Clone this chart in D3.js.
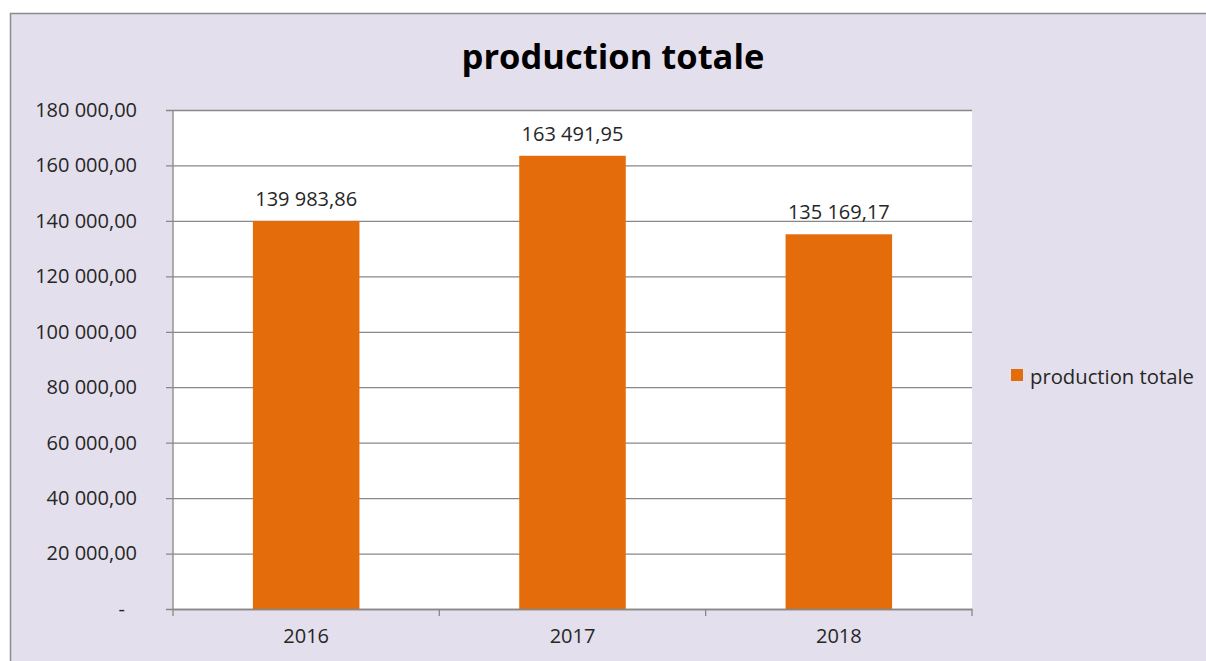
<!DOCTYPE html>
<html><head><meta charset="utf-8">
<script src="https://cdn.jsdelivr.net/npm/d3@7"></script>
<style>html,body{margin:0;padding:0;background:#fff;} svg{display:block;} text{font-family:"Open Sans",sans-serif;fill:#262626;}</style>
</head><body>
<svg id="c" width="1206" height="661"></svg>
<script>
const title = "production totale";
const seriesName = "production totale";
const categories = ["2016", "2017", "2018"];
const values = [139983.86, 163491.95, 135169.17];
const yTicks = [0, 20000, 40000, 60000, 80000, 100000, 120000, 140000, 160000, 180000];

const svg = d3.select("#c");
const W = 1206, H = 661;
const m = {left: 173, right: 972, top: 110, bottom: 609};
const orange = "#E46C0A", grid = "#888888", bg = "#E4DFEC";

svg.append("rect").attr("x", 10.5).attr("y", 13.5).attr("width", W).attr("height", H)
  .attr("fill", bg).attr("stroke", "#8c8c8c").attr("stroke-width", 1.5);

svg.append("rect").attr("x", m.left).attr("y", m.top).attr("width", m.right - m.left).attr("height", m.bottom - m.top).attr("fill", "#fff");

const loc = d3.formatLocale({decimal: ",", thousands: "\u00a0", grouping: [3], currency: ["", ""]});
const fmt = loc.format(",.2f");

const x = d3.scaleBand().domain(categories).range([m.left, m.right]).paddingInner(0.6).paddingOuter(0.3);
const xb = d3.scaleBand().domain(categories).range([m.left, m.right]);
const y = d3.scaleLinear().domain([0, 180000]).range([m.bottom, m.top]);

function fit(sel, w) {
  const node = sel.node();
  const cur = parseFloat(sel.attr("font-size"));
  const len = node.getComputedTextLength();
  sel.attr("font-size", cur * w / len);
}

// gridlines + y ticks
const ya = d3.axisLeft(y).tickValues(yTicks).tickSize(m.right - m.left + 7).tickFormat(d => d === 0 ? "-" : fmt(d)).tickPadding(29);
const yg = svg.append("g").attr("transform", `translate(${m.right},0)`).call(ya);
yg.select(".domain").remove();
yg.selectAll(".tick line").attr("stroke", grid).attr("stroke-width", 1.3);
yg.selectAll(".tick text").attr("font-size", 20).attr("font-family", "Open Sans").attr("fill", "#262626")
  .attr("dx", d => d === 0 ? -12 : 0);

// bars
svg.selectAll("rect.bar").data(values).join("rect").attr("class", "bar")
  .attr("x", (d, i) => x(categories[i])).attr("width", x.bandwidth())
  .attr("y", d => y(d)).attr("height", d => y(0) - y(d)).attr("fill", orange);

// y axis line
svg.append("line").attr("x1", m.left).attr("x2", m.left).attr("y1", m.top).attr("y2", m.bottom).attr("stroke", grid).attr("stroke-width", 1.3);

// x axis
const xa = d3.axisBottom(xb).tickSize(0).tickPadding(20);
const xg = svg.append("g").attr("transform", `translate(0,${m.bottom})`).call(xa);
xg.select(".domain").attr("stroke", grid).attr("stroke-width", 1.3);
xg.selectAll(".tick text").attr("font-size", 20).attr("font-family", "Open Sans").attr("fill", "#262626");
const bounds = categories.map(c => xb(c)).concat([m.right]);
svg.selectAll("line.xt").data(bounds).join("line").attr("class", "xt")
  .attr("x1", d => d).attr("x2", d => d).attr("y1", m.bottom).attr("y2", m.bottom + 7)
  .attr("stroke", grid).attr("stroke-width", 1.3);

// data labels
svg.selectAll("text.lbl").data(values).join("text").attr("class", "lbl")
  .attr("x", (d, i) => x(categories[i]) + x.bandwidth() / 2).attr("y", d => y(d) - 15)
  .attr("text-anchor", "middle").attr("font-size", 20).text(d => fmt(d));

// title
const t = svg.append("text").attr("x", 613).attr("y", 69).attr("text-anchor", "middle")
  .attr("font-weight", "bold").attr("font-size", 32).attr("fill", "#000").style("fill", "#000").text(title);
fit(t, 303);

// legend
svg.append("rect").attr("x", 1011).attr("y", 369).attr("width", 12).attr("height", 12).attr("fill", orange);
const lt = svg.append("text").attr("x", 1030).attr("y", 384).attr("font-size", 20).text(seriesName);
fit(lt, 164);
</script>
</body></html>
